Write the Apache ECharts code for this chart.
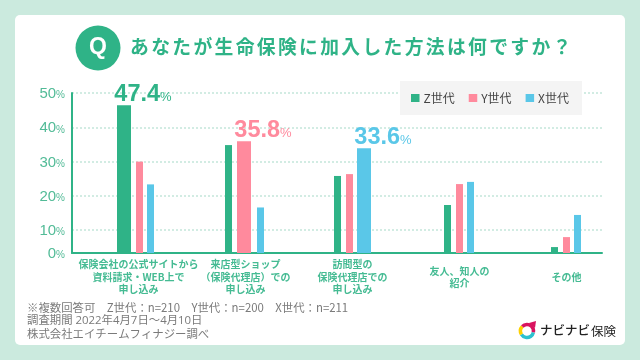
<!DOCTYPE html>
<html>
<head>
<meta charset="utf-8">
<script src="https://cdn.jsdelivr.net/npm/echarts@6/dist/echarts.min.js"></script>
<style>
html, body { margin: 0; padding: 0; background: #cbeade; }
#chart { width: 640px; height: 360px; }
</style>
</head>
<body>
<div id="chart"></div>
<script>
const categories = [
    '保険会社の公式サイトから\n資料請求・WEB上で\n申し込み',
    '来店型ショップ\n（保険代理店）での\n申し込み',
    '訪問型の\n保険代理店での\n申し込み',
    '友人、知人の\n紹介',
    'その他'
];
const seriesNames = ['Z世代', 'Y世代', 'X世代'];
const zValues = [47.4, 34.6, 24.7, 15.4, 1.9];
const yValues = [29.3, 35.8, 25.3, 22.1, 5.1];
const xValues = [22.0, 14.6, 33.6, 22.8, 12.2];
// which category each generation is called out on
const calloutCategory = [0, 1, 2];
const tickLabels = ['0', '10', '20', '30', '40', '50'];
const tickPositions = [3.35, 10, 20, 30, 40, 50];
const titleText = 'あなたが生命保険に加入した方法は何ですか？';
const footerNote = '※複数回答可　Z世代：n=210　Y世代：n=200　X世代：n=211';
const footerPeriod = '調査期間 2022年4月7日〜4月10日';
const footerSource = '株式会社エイチームフィナジー調べ';

const GREEN = '#2fb387';
const colors = [GREEN, '#ff8a9d', '#5ac7e8'];
// bar centre offset from category centre, hand placed like the original
const barOffsets = [
    [-14.5, -17, -15, -12, -12],
    [1, -1.5, -3, 0, 0],
    [12, 15, 11.5, 11, 11]
];
const FONT_JP = '"Noto Sans CJK JP", sans-serif';
const FONT_NUM = '"Liberation Sans", Arial, sans-serif';

const makeBarSeries = (name, values, idx) => ({
    type: 'custom',
    name: name,
    xAxisIndex: 1,
    yAxisIndex: 1,
    data: values.map((v, i) => [i, v]),
    encode: { x: 0, y: 1 },
    itemStyle: { color: colors[idx] },
    renderItem: (params, api) => {
        const cat = api.value(0);
        const val = api.value(1);
        const top = api.coord([cat, val]);
        const base = api.coord([cat, 0]);
        const isCallout = calloutCategory[idx] === cat;
        const w = isCallout ? 14 : 7;
        const cx = top[0] + barOffsets[idx][cat];
        const children = [{
            type: 'rect',
            shape: { x: cx - w / 2, y: top[1], width: w, height: base[1] - top[1] },
            style: { fill: colors[idx] }
        }];
        if (isCallout) {
            children.push({
                type: 'text',
                style: {
                    x: cx + 19,
                    y: top[1] - 11,
                    text: '{n|' + val.toFixed(1) + '}{p|%}',
                    align: 'center',
                    verticalAlign: 'middle',
                    rich: {
                        n: { fontFamily: FONT_NUM, fontWeight: 'bold', fontSize: 23.5, fill: colors[idx], color: colors[idx] },
                        p: { fontFamily: FONT_NUM, fontSize: 13, fill: colors[idx], color: colors[idx], padding: [6, 0, 0, 0] }
                    }
                }
            });
        }
        return { type: 'group', children: children };
    }
});

const chart = echarts.init(document.getElementById('chart'));
chart.setOption({
    animation: false,
    backgroundColor: '#cbeade',
    textStyle: { fontFamily: FONT_JP },
    grid: [
        { left: 72, right: 38, top: 93, bottom: 107 },
        { left: 85, right: 20, top: 93, bottom: 107 }
    ],
    xAxis: [
        {
            type: 'category',
            gridIndex: 0,
            data: categories,
            axisLine: { lineStyle: { color: GREEN, width: 2 } },
            axisTick: { show: false },
            axisLabel: { show: false }
        },
        {
            type: 'category',
            gridIndex: 1,
            data: categories,
            axisLine: { show: false },
            axisTick: { show: false },
            axisLabel: {
                interval: 0,
                margin: 24,
                fontSize: 10,
                lineHeight: 12.5,
                fontWeight: 'bold',
                color: '#45bb93',
                fontFamily: FONT_JP,
                verticalAlign: 'middle'
            }
        }
    ],
    yAxis: [
        {
            type: 'value',
            gridIndex: 0,
            min: 3.35,
            max: 50,
            axisLine: { show: true, lineStyle: { color: GREEN, width: 2 } },
            axisTick: { show: false, customValues: tickPositions },
            axisLabel: {
                customValues: tickPositions,
                margin: 7,
                padding: [2, 0, 0, 0],
                formatter: (v) => '{n|' + tickLabels[tickPositions.indexOf(v)] + '}{p|%}',
                rich: {
                    n: { fontFamily: FONT_NUM, fontSize: 15, color: '#52bb97' },
                    p: { fontFamily: FONT_NUM, fontSize: 10, color: '#52bb97', padding: [3, 0, 0, 0] }
                }
            },
            splitLine: { show: true, lineStyle: { color: '#d2ece3', width: 2, type: [2, 2] } }
        },
        {
            type: 'value',
            gridIndex: 1,
            min: 0,
            max: 51.3,
            show: false
        }
    ],
    legend: {
        left: 400,
        top: 81,
        padding: [11, 13, 11, 11],
        backgroundColor: '#f4f4f4',
        itemWidth: 8.5,
        itemHeight: 8,
        itemGap: 14,
        icon: 'rect',
        data: seriesNames,
        textStyle: { fontSize: 12, color: '#444', fontFamily: FONT_JP, padding: [0, 0, 0, -1] }
    },
    title: {
        // the original title is letter-spaced, hair spaces stand in for that
        text: Array.from(titleText).join('\u200a\u200a'),
        left: 130,
        top: 37,
        padding: 0,
        textStyle: { fontFamily: FONT_JP, fontSize: 18.8, fontWeight: 'bold', color: GREEN }
    },
    graphic: [
        {
            type: 'rect', z: -10, silent: true,
            shape: { x: 15, y: 15, width: 610, height: 330, r: 5 },
            style: { fill: '#fff' }
        },
        { type: 'circle', z: 5, shape: { cx: 98, cy: 48, r: 22.5 }, style: { fill: GREEN } },
        {
            type: 'text', z: 6,
            style: { x: 98, y: 48, text: 'Q', align: 'center', verticalAlign: 'middle', fill: '#fff',
                font: 'bold 23px ' + FONT_NUM }
        },
        {
            type: 'text', z: 6,
            style: { x: 27, y: 302, text: footerNote, fill: '#7a7a7a', font: '11.4px ' + FONT_JP }
        },
        {
            type: 'text', z: 6,
            style: { x: 27, y: 315, text: footerPeriod, fill: '#7a7a7a', font: '11.4px "Open Sans", ' + FONT_JP }
        },
        {
            type: 'text', z: 6,
            style: { x: 27, y: 328, text: footerSource, fill: '#7a7a7a', font: '11.4px ' + FONT_JP }
        },
        // logo ring
        { type: 'arc', z: 6, shape: { cx: 527, cy: 331, r: 6.5, startAngle: 0.2, endAngle: 2.6 }, style: { stroke: '#2cc1cf', lineWidth: 3.5, fill: null } },
        { type: 'arc', z: 6, shape: { cx: 527, cy: 331, r: 6.5, startAngle: 2.6, endAngle: 3.9 }, style: { stroke: '#fcd000', lineWidth: 3.5, fill: null } },
        { type: 'arc', z: 6, shape: { cx: 527, cy: 331, r: 6.5, startAngle: 3.9, endAngle: 6.48 }, style: { stroke: '#d9125f', lineWidth: 3.5, fill: null } },
        {
            type: 'polygon', z: 6,
            shape: { points: [[529, 323], [536, 321], [535, 328]] },
            style: { fill: '#d9125f' }
        },
        {
            type: 'text', z: 6,
            style: { x: 540, y: 330, text: 'ナビナビ', verticalAlign: 'middle', fill: '#222',
                font: '500 12.5px ' + FONT_JP }
        },
        {
            type: 'text', z: 6,
            style: { x: 591, y: 331, text: '保険', verticalAlign: 'middle', fill: '#222',
                font: '12.5px ' + FONT_JP }
        }
    ],
    series: [
        makeBarSeries(seriesNames[0], zValues, 0),
        makeBarSeries(seriesNames[1], yValues, 1),
        makeBarSeries(seriesNames[2], xValues, 2)
    ]
});
</script>
</body>
</html>
